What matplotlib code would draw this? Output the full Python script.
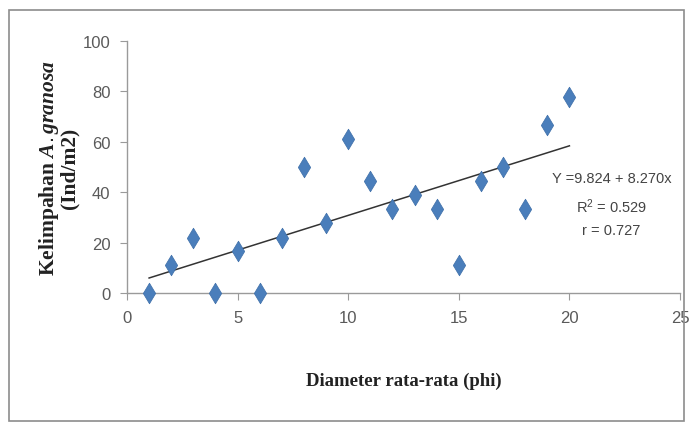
import numpy as np
import matplotlib
matplotlib.use("Agg")
import matplotlib.pyplot as plt
from matplotlib.patches import Rectangle

plt.rcParams["mathtext.fontset"] = "custom"
plt.rcParams["mathtext.it"] = "Liberation Serif:italic:bold"
plt.rcParams["mathtext.rm"] = "Liberation Sans"

# data
diameter = [1, 2, 3, 4, 5, 6, 7, 8, 9, 10, 11, 12, 13, 14, 15, 16, 17, 18, 19, 20]
kelimpahan = [0, 11, 22, 0, 16.7, 0, 22, 50, 27.8, 61, 44.4, 33.3, 38.9, 33.3,
              11, 44.4, 50, 33.3, 66.7, 77.8]
x_ticks = [0, 5, 10, 15, 20, 25]
y_ticks = [0, 20, 40, 60, 80, 100]
persamaan = ["Y =9.824 + 8.270x", "R$\\mathrm{^2}$ = 0.529", "r = 0.727"]

fig = plt.figure(figsize=(6.92, 4.27), dpi=100)
fig.patches.append(Rectangle((0.013, 0.012), 0.975, 0.962, transform=fig.transFigure,
                             fill=False, edgecolor="#8c8c8c", linewidth=1.2))
ax = fig.add_axes([0.1835, 0.3115, 0.7992, 0.5901])

ax.scatter(diameter, kelimpahan, marker="d", s=110, color="#4a7ebb",
           edgecolors="#3d6ea8", linewidths=0.5, zorder=3, clip_on=False)

# linear trend line
a, b = np.polyfit(diameter, kelimpahan, 1)
xs = np.array([min(diameter), max(diameter)])
ax.plot(xs, a * xs + b, color="#333333", linewidth=1.1, zorder=2)

ax.set_xlim(0, 25)
ax.set_ylim(0, 100)
ax.set_xticks(x_ticks)
ax.set_yticks(y_ticks)
for s in ["top", "right"]:
    ax.spines[s].set_visible(False)
for s in ["left", "bottom"]:
    ax.spines[s].set_color("#9a9a9a")
    ax.spines[s].set_linewidth(1.0)
ax.tick_params(direction="out", length=5, color="#9a9a9a", labelcolor="#5a5a5a",
               labelsize=12, pad=7)
for lab in ax.get_xticklabels() + ax.get_yticklabels():
    lab.set_family("Liberation Sans")

ax.set_xlabel("Diameter rata-rata (phi)", family="Liberation Serif", fontweight="bold",
              fontsize=13.5, labelpad=34, color="#222222")
ax.set_ylabel("Kelimpahan $\\mathit{A. granosa}$\n(Ind/m2)", family="Liberation Serif",
              fontweight="bold", fontsize=15.5, labelpad=2, color="#222222",
              linespacing=0.95)

ax.text(21.9, 48.5, "\n".join(persamaan), ha="center", va="top", fontsize=10.5,
        color="#444444", family="Liberation Sans", linespacing=1.75)

fig.savefig("out.png", dpi=100)
